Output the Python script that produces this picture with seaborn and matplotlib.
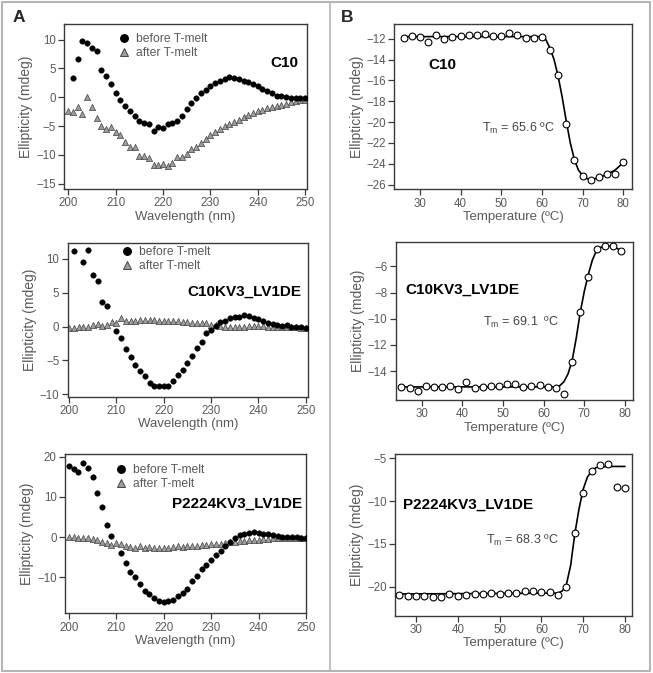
import matplotlib
matplotlib.use("Agg")
import matplotlib.pyplot as plt
from matplotlib.lines import Line2D
import pandas as pd
import seaborn as sns

# ---- CD spectra (panel A) ----
wl = list(range(200, 251))

c10_before_x = list(range(201, 251))
c10_before = [3.3, 6.7, 9.8, 9.4, 8.6, 8.1, 4.7, 3.7, 2.3, 0.8, -0.5, -1.6, -2.4, -3.3,
              -4.1, -4.4, -4.7, -5.9, -5.2, -5.3, -4.7, -4.4, -4.2, -3.2, -2.1, -1.0,
              -0.1, 0.8, 1.2, 2.0, 2.4, 2.9, 3.1, 3.5, 3.3, 3.1, 2.8, 2.6, 2.3, 1.9,
              1.4, 1.1, 0.7, 0.2, 0.2, 0.1, -0.2, -0.2, -0.1, -0.1]
c10_after = [-2.3, -2.5, -1.7, -2.9, 0.0, -1.7, -3.6, -5.0, -5.5, -5.2, -6.0, -6.6,
             -7.7, -8.6, -8.6, -10.2, -10.2, -10.5, -11.7, -11.7, -11.5, -12.0, -11.4,
             -10.4, -10.3, -9.8, -9.0, -8.7, -8.0, -7.3, -6.6, -6.0, -5.5, -5.0, -4.6,
             -4.3, -4.0, -3.5, -3.1, -2.7, -2.4, -2.2, -1.9, -1.7, -1.6, -1.3, -1.2,
             -0.9, -0.7, -0.5, -0.5]

kv3_before_x = [201, 203, 204, 205, 206, 207, 208] + list(range(210, 251))
kv3_before = [11.2, 9.5, 11.3, 7.6, 6.8, 3.7, 3.0, -0.7, -1.7, -3.3, -4.5, -5.6, -6.5,
              -7.3, -8.3, -8.7, -8.8, -8.8, -8.7, -8.1, -7.1, -6.4, -5.4, -4.4, -3.1,
              -2.3, -1.0, -0.5, 0.1, 0.7, 0.9, 1.3, 1.4, 1.4, 1.7, 1.5, 1.2, 1.1, 0.9,
              0.6, 0.4, 0.2, 0.05, 0.2, 0.0, -0.1, -0.1, -0.2]
kv3_after = [-0.2, -0.2, -0.1, -0.1, 0.0, 0.2, 0.4, 0.1, 0.3, 0.7, 0.6, 1.2, 0.9, 0.8,
             0.9, 1.0, 1.0, 1.0, 1.0, 0.9, 0.8, 0.9, 0.9, 0.8, 0.7, 0.7, 0.6, 0.5, 0.5,
             0.5, 0.3, 0.2, 0.1, 0.0, 0.0, 0.0, 0.0, 0.0, 0.1, 0.1, 0.1, 0.1, 0.0, 0.0,
             0.0, 0.0, -0.1, -0.1, -0.1, -0.2, -0.2]

p22_before_x = list(range(200, 210)) + list(range(211, 251))
p22_before = [17.8, 16.9, 16.3, 18.5, 17.2, 15.0, 10.9, 7.4, 2.9, 0.3, -4.0, -6.4,
              -8.7, -10.0, -11.7, -13.5, -14.1, -15.2, -16.0, -16.1, -15.8, -15.6,
              -14.7, -14.0, -12.8, -11.0, -9.7, -8.0, -6.9, -5.6, -4.4, -3.5, -2.3,
              -1.2, -0.3, 0.4, 0.7, 1.0, 1.2, 1.0, 0.7, 0.7, 0.4, 0.2, 0.1, 0.1, 0.0,
              0.0, -0.2, -0.2]
p22_after = [0.0, 0.0, -0.1, -0.2, -0.3, -0.5, -0.8, -1.1, -1.4, -1.9, -1.4, -1.8,
             -2.2, -2.5, -2.8, -2.3, -2.6, -2.4, -2.6, -2.8, -2.8, -2.7, -2.5, -2.3,
             -2.4, -2.2, -2.3, -2.1, -2.0, -1.9, -1.8, -1.7, -1.6, -1.4, -1.3, -1.2,
             -1.0, -0.9, -0.7, -0.6, -0.6, -0.5, -0.4, -0.3, -0.3, -0.2, -0.2, -0.2,
             -0.2, -0.3, -0.3]

# ---- thermal melts (panel B) ----
c10_temp = list(range(26, 81, 2))
c10_melt = [-11.9, -11.75, -11.8, -12.3, -11.6, -12.0, -11.85, -11.75, -11.6, -11.65,
            -11.55, -11.75, -11.75, -11.5, -11.6, -11.9, -11.9, -11.8, -13.1, -15.5,
            -20.2, -23.6, -25.15, -25.55, -25.3, -24.95, -25.0, -23.85]
c10_fit_x = [26, 60, 61, 62, 63, 64, 65, 66, 67, 68, 69, 70, 71, 72, 74, 76, 78, 80]
c10_fit = [-11.8, -11.8, -12.1, -12.9, -14.0, -15.6, -17.6, -19.9, -22.0, -23.6,
           -24.6, -25.1, -25.4, -25.5, -25.35, -25.0, -24.6, -23.9]

kv3_temp = list(range(25, 80, 2))
kv3_melt = [-15.2, -15.3, -15.5, -15.15, -15.2, -15.2, -15.1, -15.35, -14.85, -15.25,
            -15.2, -15.1, -15.1, -14.95, -15.0, -15.2, -15.1, -15.05, -15.2, -15.25,
            -15.75, -13.3, -9.45, -6.8, -4.65, -4.47, -4.47, -4.85]
kv3_fit_x = [25, 63, 64, 65, 66, 67, 68, 69, 70, 71, 72, 73, 74, 75, 77, 79]
kv3_fit = [-15.2, -15.2, -15.1, -14.8, -14.2, -13.2, -11.5, -9.5, -7.9, -6.6, -5.5,
           -4.8, -4.55, -4.45, -4.45, -4.8]

p22_temp = list(range(26, 81, 2))
p22_melt = [-20.93, -21.1, -21.1, -21.1, -21.2, -21.2, -20.8, -21.1, -20.95, -20.9,
            -20.8, -20.7, -20.8, -20.7, -20.7, -20.55, -20.5, -20.6, -20.6, -20.95,
            -20.0, -13.7, -9.0, -6.5, -5.8, -5.7, -8.4, -8.5]
p22_fit_x = [26, 64, 65, 66, 67, 68, 69, 70, 71, 72, 73, 74, 76, 80]
p22_fit = [-20.85, -20.75, -20.5, -19.7, -17.5, -13.8, -10.9, -8.6, -7.2, -6.5, -6.1,
           -6.0, -5.95, -5.95]

names = ["C10", "C10KV3_LV1DE", "P2224KV3_LV1DE"]
tm_text = ["T$_\\mathrm{m}$ = 65.6 ºC", "T$_\\mathrm{m}$ = 69.1  ºC", "T$_\\mathrm{m}$ = 68.3 ºC"]

sns.set_theme(style="ticks")
plt.rcParams["font.family"] = ["Liberation Sans", "DejaVu Sans"]
plt.rcParams["mathtext.fontset"] = "custom"
plt.rcParams["mathtext.rm"] = "Liberation Sans"
plt.rcParams["mathtext.it"] = "Liberation Sans:italic"

W, H = 653, 673
fig = plt.figure(figsize=(W / 100, H / 100), dpi=100)

def rect(l, r, t, b):
    return [l / W, 1 - b / H, (r - l) / W, (b - t) / H]

axA = [fig.add_axes(rect(64, 307, 24, 189)),
       fig.add_axes(rect(67.7, 308, 243.3, 396.7)),
       fig.add_axes(rect(65, 306, 454, 613.3))]
axB = [fig.add_axes(rect(394.3, 631.7, 24, 189.3)),
       fig.add_axes(rect(395.7, 632.7, 241.7, 400)),
       fig.add_axes(rect(395, 631.7, 454.3, 615.7))]

txt_col = "#5a5a5a"
spine_col = "#3a3a3a"

def style(ax):
    for s in ax.spines.values():
        s.set_visible(True)
        s.set_color(spine_col)
        s.set_linewidth(1.0)
    ax.tick_params(direction="out", length=4, width=0.9, color=spine_col,
                   labelsize=8.3, labelcolor=txt_col, pad=2)
    ax.tick_params(top=False, right=False)
    ax.xaxis.label.set_color(txt_col)
    ax.yaxis.label.set_color(txt_col)

spectra = [(c10_before_x, c10_before, c10_after),
           (kv3_before_x, kv3_before, kv3_after),
           (p22_before_x, p22_before, p22_after)]
a_lims = [((199.1, 250.4), (-15.9, 12.7), [-15, -10, -5, 0, 5, 10]),
          ((199.7, 250.5), (-10.35, 12.3), [-10, -5, 0, 5, 10]),
          ((199.2, 250.0), (-18.95, 20.67), [-10, 0, 10, 20])]
name_pos_a = [(248.5, 6.0), (249.2, 5.1), (249.2, 8.2)]
leg_anchor = [(0.222, 0.945), (0.222, 0.98), (0.208, 0.936)]

for i, ax in enumerate(axA):
    bx, by, ay = spectra[i]
    df_after = pd.DataFrame({"wl": wl, "cd": ay})
    df_before = pd.DataFrame({"wl": bx, "cd": by})
    sns.scatterplot(data=df_after, x="wl", y="cd", ax=ax, marker="^", s=20,
                    color="#9c9c9c", edgecolor="#444444", linewidth=0.5, zorder=2)
    sns.scatterplot(data=df_before, x="wl", y="cd", ax=ax, marker="o", s=16,
                    color="black", edgecolor="black", linewidth=0.3, zorder=3)
    xl, yl, yt = a_lims[i]
    ax.set_xlim(*xl)
    ax.set_ylim(*yl)
    ax.set_yticks(yt)
    ax.set_xticks([200, 210, 220, 230, 240, 250])
    ax.set_xlabel("Wavelength (nm)", fontsize=9.5, labelpad=1)
    ax.set_ylabel("Ellipticity (mdeg)", fontsize=10, labelpad=2)
    style(ax)
    ax.text(*name_pos_a[i], names[i], ha="right", va="center", fontsize=11,
            fontweight="bold", color="black")
    handles = [Line2D([], [], ls="none", marker="o", ms=5.4, mfc="black", mec="black"),
               Line2D([], [], ls="none", marker="^", ms=5.6, mfc="#9c9c9c", mec="#444444",
                      mew=0.7)]
    leg = ax.legend(handles, ["before T-melt", "after T-melt"], loc="upper left",
                    bbox_to_anchor=leg_anchor[i], frameon=False, fontsize=8.7,
                    handlelength=1.0, handletextpad=0.5, borderpad=0,
                    borderaxespad=0, labelspacing=0.15)
    for t in leg.get_texts():
        t.set_color(txt_col)

melts = [(c10_temp, c10_melt, c10_fit_x, c10_fit),
         (kv3_temp, kv3_melt, kv3_fit_x, kv3_fit),
         (p22_temp, p22_melt, p22_fit_x, p22_fit)]
b_lims = [((23.7, 82.1), (-26.44, -10.59), [-26, -24, -22, -20, -18, -16, -14, -12]),
          ((23.6, 81.9), (-16.2, -4.12), [-14, -12, -10, -8, -6]),
          ((24.98, 81.6), (-23.39, -4.53), [-20, -15, -10, -5])]
name_pos_b = [(32.2, -14.5), (25.9, -7.8), (26.9, -10.46)]
tm_pos = [(45.3, -20.56), (45.1, -10.26), (46.75, -14.55)]

for i, ax in enumerate(axB):
    tx, ty, fx, fy = melts[i]
    df_fit = pd.DataFrame({"T": fx, "cd": fy})
    df_pts = pd.DataFrame({"T": tx, "cd": ty})
    sns.lineplot(data=df_fit, x="T", y="cd", ax=ax, color="black", linewidth=1.2,
                 zorder=2)
    sns.scatterplot(data=df_pts, x="T", y="cd", ax=ax, marker="o", s=24,
                    color="white", edgecolor="black", linewidth=0.8, zorder=3)
    xl, yl, yt = b_lims[i]
    ax.set_xlim(*xl)
    ax.set_ylim(*yl)
    ax.set_yticks(yt)
    ax.set_xticks([30, 40, 50, 60, 70, 80])
    ax.set_xlabel("Temperature (ºC)", fontsize=9.5, labelpad=1)
    ax.set_ylabel("Ellipticity (mdeg)", fontsize=10, labelpad=2)
    style(ax)
    ax.text(*name_pos_b[i], names[i], ha="left", va="center", fontsize=11,
            fontweight="bold", color="black")
    ax.text(*tm_pos[i], tm_text[i], ha="left", va="center", fontsize=9,
            color="#444444")

# panel letters
fig.text(13 / W, 1 - 18 / H, "A", fontsize=12.5, fontweight="bold", ha="left", va="center")
fig.text(341 / W, 1 - 18 / H, "B", fontsize=12.5, fontweight="bold", ha="left", va="center")

# frame and divider
frame_col = "#b5b5b5"
x0, x1, y0, y1 = 1.5 / W, 650 / W, 1 - 671 / H, 1 - 1.5 / H
fig.add_artist(Line2D([x0, x1, x1, x0, x0], [y0, y0, y1, y1, y0], color=frame_col,
                      linewidth=1.5, transform=fig.transFigure))
fig.add_artist(Line2D([330 / W, 330 / W], [y0, y1], color=frame_col, linewidth=1.2,
                      transform=fig.transFigure))

fig.savefig("out.png", dpi=100)
